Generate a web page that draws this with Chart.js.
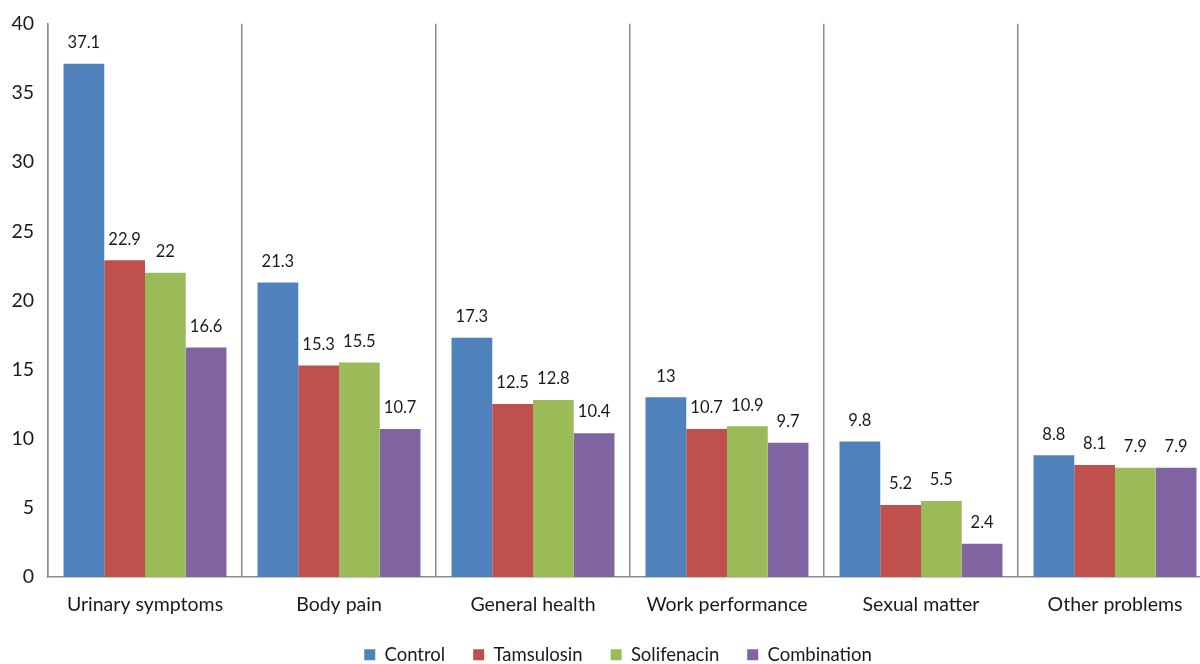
<!DOCTYPE html>
<html>
<head>
<meta charset="utf-8">
<script src="https://cdn.jsdelivr.net/npm/chart.js@4.4.0/dist/chart.umd.min.js"></script>
<style>
  html, body { margin: 0; padding: 0; overflow: hidden; background: #fff; }
  #wrap { width: 1212px; height: 674px; position: relative; }
</style>
</head>
<body>
<div id="wrap"><canvas id="c"></canvas></div>
<script>
const categories = ["Urinary symptoms", "Body pain", "General health", "Work performance", "Sexual matter", "Other problems"];
const seriesNames = ["Control", "Tamsulosin", "Solifenacin", "Combination"];
const control = [37.1, 21.3, 17.3, 13, 9.8, 8.8];
const tamsulosin = [22.9, 15.3, 12.5, 10.7, 5.2, 8.1];
const solifenacin = [22, 15.5, 12.8, 10.9, 5.5, 7.9];
const combination = [16.6, 10.7, 10.4, 9.7, 2.4, 7.9];
const yTicks = [0, 5, 10, 15, 20, 25, 30, 35, 40];

const colors = ["#4F81BD", "#C0504D", "#9BBB59", "#8064A2"];
const seriesValues = [control, tamsulosin, solifenacin, combination];
const FONT = "Lato, 'Open Sans', sans-serif";

const valueLabels = {
  id: "valueLabels",
  afterDatasetsDraw(chart) {
    const ctx = chart.ctx;
    ctx.save();
    ctx.font = "16.5px " + FONT;
    ctx.fillStyle = "#1a1a1a";
    ctx.textAlign = "center";
    ctx.textBaseline = "middle";
    chart.data.datasets.forEach((ds, i) => {
      const meta = chart.getDatasetMeta(i);
      meta.data.forEach((bar, j) => {
        ctx.fillText(String(ds.data[j]), bar.x, bar.y - 21);
      });
    });
    ctx.restore();
  }
};

const legendShift = {
  id: "legendShift",
  afterLayout(chart) {
    if (chart.legend) {
      chart.legend.left += 12;
      chart.legend.right += 12;
    }
  }
};

new Chart(document.getElementById("c"), {
  type: "bar",
  data: {
    labels: categories,
    datasets: seriesNames.map((n, i) => ({
      label: n,
      data: seriesValues[i],
      backgroundColor: colors[i],
      borderWidth: 0,
      categoryPercentage: 0.84,
      barPercentage: 1.0
    }))
  },
  options: {
    responsive: true,
    maintainAspectRatio: false,
    animation: false,
    layout: { padding: { top: 22, right: 0, left: 0, bottom: 0 } },
    plugins: {
      tooltip: { enabled: false },
      legend: {
        position: "bottom",
        labels: {
          font: { family: FONT, size: 18.5 },
          color: "#1a1a1a",
          boxWidth: 11,
          boxHeight: 11,
          padding: 28
        }
      }
    },
    scales: {
      x: {
        grid: { display: true, offset: true, color: "#8c8c8c", lineWidth: 1.5, drawTicks: false },
        border: { display: true, color: "#8c8c8c", width: 1.5 },
        ticks: { font: { family: FONT, size: 19.5 }, color: "#1a1a1a", padding: 16, maxRotation: 0 },
        afterFit(scale) { scale.height = 40.5; }
      },
      y: {
        min: 0, max: 40,
        afterBuildTicks(scale) { scale.ticks = yTicks.map(v => ({ value: v })); },
        grid: { display: false, drawTicks: false },
        border: { display: true, color: "#8c8c8c", width: 1.5 },
        ticks: { font: { family: FONT, size: 19.5, lineHeight: 1 }, color: "#1a1a1a", padding: 14 },
        afterFit(scale) { scale.width = 48; }
      }
    }
  },
  plugins: [valueLabels, legendShift]
});
</script>
</body>
</html>
